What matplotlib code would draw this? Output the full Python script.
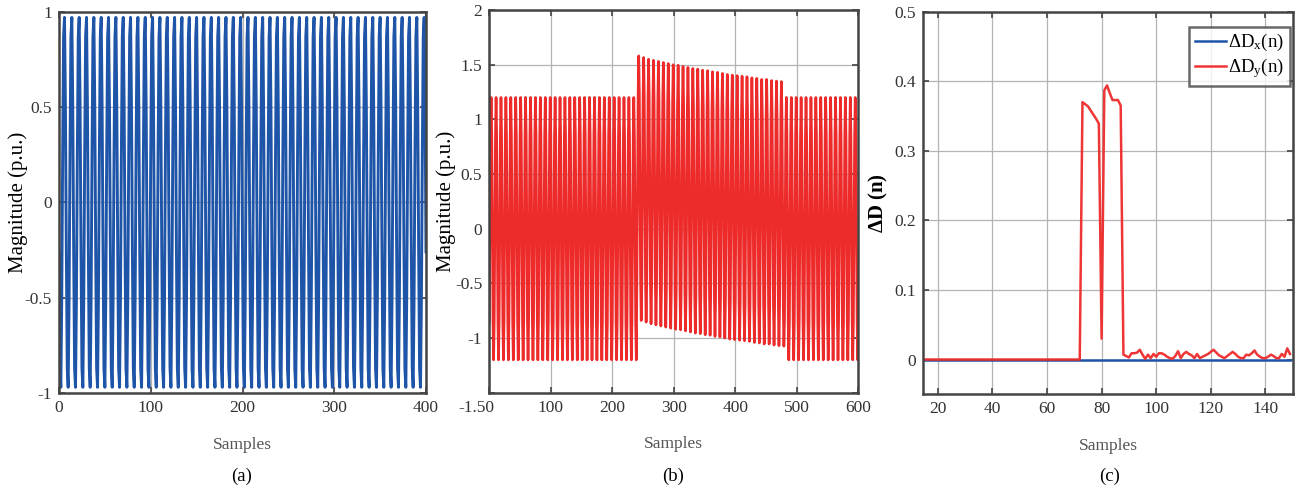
import numpy as np
import matplotlib
matplotlib.use("Agg")
import matplotlib.pyplot as plt
import matplotlib.transforms as mtransforms

plt.rcParams['font.family'] = ['Liberation Serif', 'DejaVu Serif']
plt.rcParams['mathtext.default'] = 'regular'
plt.rcParams['axes.unicode_minus'] = False

# (a) healthy signal: one cycle of samples (8 samples per cycle), repeated
a_cycle = [-0.26, -0.87, -0.97, -0.50, 0.26, 0.87, 0.97, 0.50]
a_cycles = 51
a_samples = 401

# (b) faulted signal: normal cycle, fault peaks per cycle, number of cycles per stage
b_cycle = [-0.85, 0.0, 0.85, 1.2, 0.85, 0.0, -0.85, -1.2]
b_pre_cycles = 30
b_fault_peaks = [1.58, 1.565, 1.55, 1.54, 1.53, 1.52, 1.51, 1.50, 1.495, 1.485,
                 1.475, 1.465, 1.46, 1.45, 1.445, 1.435, 1.43, 1.42, 1.41, 1.405,
                 1.40, 1.395, 1.39, 1.38, 1.375, 1.365, 1.365, 1.355, 1.35, 1.345]
b_fault_amp = 1.21
b_post_cycles = 16
b_samples = 601

# (c) difference indices
c_start = 15
c_quiet_len = 58            # samples 15..72 at zero
dy_event = [0.370, 0.367, 0.364, 0.358, 0.352, 0.346, 0.339, 0.030,
            0.387, 0.394, 0.383, 0.373, 0.373, 0.373, 0.365]        # 73..87
dy_tail = [0.007, 0.005, 0.003, 0.009, 0.009, 0.010, 0.014, 0.007, 0.001, 0.007,
           0.002, 0.008, 0.004, 0.009, 0.009, 0.007, 0.004, 0.002, 0.001, 0.005,
           0.012, 0.002, 0.008, 0.011, 0.008, 0.006, 0.002, 0.008, 0.002, 0.004,
           0.006, 0.008, 0.011, 0.014, 0.010, 0.006, 0.004, 0.002, 0.005, 0.008,
           0.011, 0.008, 0.004, 0.002, 0.002, 0.007, 0.006, 0.009, 0.013, 0.007,
           0.004, 0.002, 0.002, 0.004, 0.007, 0.005, 0.002, 0.002, 0.008, 0.004,
           0.016, 0.008]                                             # 88..149

blue = '#1f55a8'
red = '#ee2b2b'
frame = '#444444'
tick_col = '#333333'

# build series
ya = np.tile(a_cycle, a_cycles)[:a_samples]
xa = np.arange(len(ya))

unit = np.array(b_cycle) / max(b_cycle)
parts = [np.tile(b_cycle, b_pre_cycles)]
for pk in b_fault_peaks:
    parts.append((pk - b_fault_amp) + b_fault_amp * unit)
parts.append(np.tile(b_cycle, b_post_cycles))
yb = np.concatenate(parts)[:b_samples]
xb = np.arange(len(yb))

dy = np.concatenate([np.zeros(c_quiet_len), dy_event, dy_tail])
xc = np.arange(c_start, c_start + len(dy))
dx = np.zeros(len(dy))

fig = plt.figure(figsize=(13.01, 4.9), dpi=100)
W, H = 1301, 490


def make_ax(l, r, t, b):
    return fig.add_axes([l / W, (H - b) / H, (r - l) / W, (b - t) / H])


def style(ax):
    ax.grid(True, color='#b4b4b4', linewidth=0.9)
    ax.set_axisbelow(True)
    for s in ax.spines.values():
        s.set_color(frame)
        s.set_linewidth(1.8)
    ax.tick_params(direction='in', top=True, right=True, length=4, width=1.2,
                   color=frame, labelcolor=tick_col, labelsize=12.5, pad=5)


ax1 = make_ax(59, 426, 11.7, 393)
ax1.plot(xa, ya, color=blue, linewidth=2.1)
ax1.set_xlim(0, 400)
ax1.set_ylim(-1, 1)
ax1.set_xticks([0, 100, 200, 300, 400])
ax1.set_yticks([-1, -0.5, 0, 0.5, 1])
ax1.set_yticklabels(['-1', '-0.5', '0', '0.5', '1'])
style(ax1)
ax1.set_ylabel('Magnitude (p.u.)', fontsize=15)
ax1.yaxis.set_label_coords(-0.085, 0.5)

ax2 = make_ax(489.3, 858.3, 10, 392.7)
ax2.plot(xb, yb, color=red, linewidth=1.9)
ax2.set_xlim(0, 600)
ax2.set_ylim(-1.5, 2)
ax2.set_xticks([0, 100, 200, 300, 400, 500, 600])
ax2.set_xticklabels(['-1.50', '100', '200', '300', '400', '500', '600'])
ax2.set_yticks([-1.5, -1, -0.5, 0, 0.5, 1, 1.5, 2])
ax2.set_yticklabels(['', '-1', '-0.5', '0', '0.5', '1', '1.5', '2'])
style(ax2)
first = ax2.get_xticklabels()[0]
first.set_horizontalalignment('right')
first.set_transform(first.get_transform() + mtransforms.ScaledTranslation(5 / 100, 0, fig.dpi_scale_trans))
ax2.set_ylabel('Magnitude (p.u.)', fontsize=15)
ax2.yaxis.set_label_coords(-0.09, 0.5)

ax3 = make_ax(923.3, 1292.7, 11.7, 394.3)
ax3.plot(xc, dx, color=blue, linewidth=1.8, label=r'$\Delta$D$_x$(n)')
ax3.plot(xc, dy, color=red, linewidth=1.8, alpha=0.95, label=r'$\Delta$D$_y$(n)')
ax3.set_xlim(14.7, 150)
ax3.set_ylim(-0.05, 0.5)
ax3.set_xticks([20, 40, 60, 80, 100, 120, 140])
ax3.set_yticks([0, 0.1, 0.2, 0.3, 0.4, 0.5])
ax3.set_yticklabels(['0', '0.1', '0.2', '0.3', '0.4', '0.5'])
style(ax3)
ax3.set_ylabel(r'$\Delta$D (n)', fontsize=15, fontweight='bold')
ax3.yaxis.set_label_coords(-0.09, 0.5)
leg = ax3.legend(loc='upper right', bbox_to_anchor=(1 - 3 / 369, 1 - 15 / 383),
                 fontsize=13.5, frameon=True, fancybox=False,
                 handlelength=1.7, handletextpad=0.1, borderpad=0.3,
                 labelspacing=0.15, borderaxespad=0.0)
leg.get_frame().set_edgecolor(frame)
leg.get_frame().set_linewidth(1.8)

for ax, tag, cx in [(ax1, '(a)', 242), (ax2, '(b)', 673), (ax3, '(c)', 1110)]:
    ax.set_xlabel('Samples', fontsize=12.5, color='#555555', labelpad=15)
    fig.text(cx / W, 1 - 476 / H, tag, fontsize=13.5, ha='center', va='center')

fig.savefig('out.png', dpi=100)
